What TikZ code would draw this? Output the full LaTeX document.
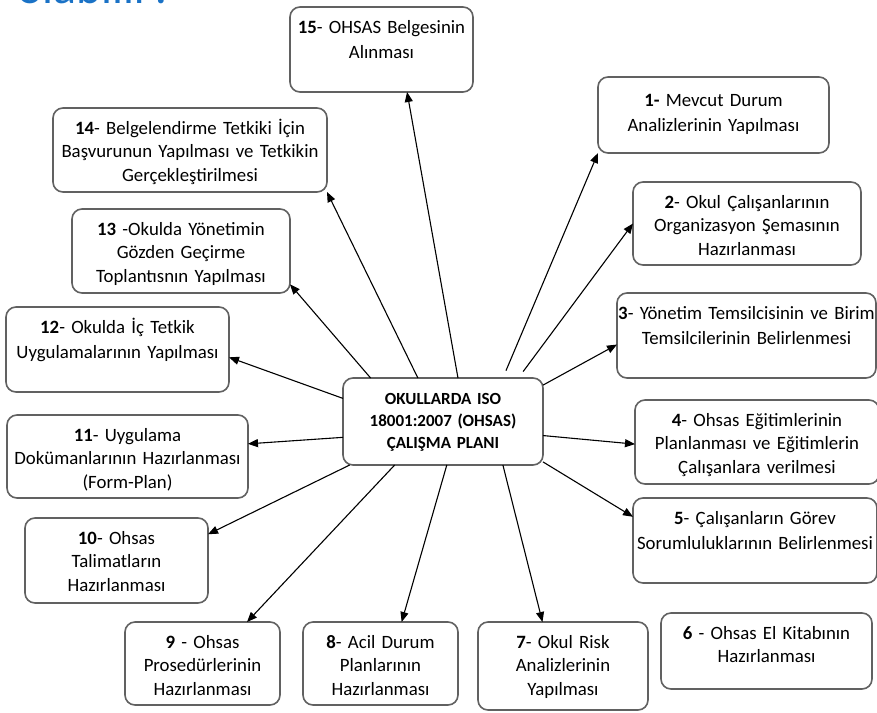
\documentclass[tikz,border=0pt]{standalone}
\usepackage{fontspec}
\setmainfont{Carlito}
\usetikzlibrary{arrows.meta}
\definecolor{baslik}{HTML}{1A72C6}

\tikzset{
  kutu/.style={draw=black!62, line width=1.6pt, rounded corners=10pt, fill=white,
    inner sep=0pt, outer sep=0pt, anchor=north west, align=center,
    text height=26pt, font=\fontsize{18.8}{23.5}\selectfont},
  iki/.style={font=\fontsize{18.8}{25.5}\selectfont},
  merkez/.style={kutu, font=\fontsize{17}{22}\selectfont\bfseries},
  ok/.style={-{Triangle[length=10pt,width=8pt]}, line width=1.1pt},
}

\begin{document}
\begin{tikzpicture}[x=1pt,y=-1pt]
      \useasboundingbox (0,0) rectangle (877,712);
      \clip (0,0) rectangle (877,712);
      % title
      \node[anchor=base west, inner sep=0pt, text=baslik, font=\fontsize{48}{48}\selectfont] (baslik) at (17,3) {olabilir?};
      % Nodes
      % center and steps
      \node[merkez, text width=200pt, text depth=61pt] (c) at (343,378) {OKULLARDA ISO\\18001:2007 (OHSAS)\\ÇALIŞMA PLANI};
      \node[kutu, iki, text width=231pt, text height=29pt, text depth=47pt] (s1) at (598,77) {\textbf{1-} Mevcut Durum\\Analizlerinin Yapılması};
      \node[kutu, text width=228pt, text depth=57pt] (s2) at (633,182) {\textbf{2}- Okul Çalışanlarının\\Organizasyon Şemasının\\Hazırlanması};
      \node[kutu, iki, text width=259pt, text depth=59pt] (s3) at (617,293) {\textbf{3}- Yönetim Temsilcisinin ve Birim\\Temsilcilerinin Belirlenmesi};
      \node[kutu, text width=244pt, text depth=58pt] (s4) at (635,400) {\textbf{4}- Ohsas Eğitimlerinin\\Planlanması ve Eğitimlerin\\Çalışanlara verilmesi};
      \node[kutu, iki, text width=244pt, text depth=59pt] (s5) at (633,498) {\textbf{5}- Çalışanların Görev\\Sorumluluklarının Belirlenmesi};
      \node[kutu, text width=211pt, text depth=50pt] (s6) at (661,613) {\textbf{6} - Ohsas El Kitabının\\Hazırlanması};
      \node[kutu, text width=170pt, text depth=62pt] (s7) at (478,622) {\textbf{7}- Okul Risk\\Analizlerinin\\Yapılması};
      \node[kutu, text width=155pt, text depth=57pt] (s8) at (303,622) {\textbf{8}- Acil Durum\\Planlarının\\Hazırlanması};
      \node[kutu, text width=155pt, text depth=57pt] (s9) at (125,622) {\textbf{9} - Ohsas\\Prosedürlerinin\\Hazırlanması};
      \node[kutu, text width=183pt, text depth=59pt] (s10) at (25,518) {\textbf{10}- Ohsas\\Talimatların\\Hazırlanması};
      \node[kutu, text width=241pt, text depth=57pt] (s11) at (7,415) {\textbf{11}- Uygulama\\Dokümanlarının Hazırlanması\\(Form-Plan)};
      \node[kutu, iki, text width=223pt, text depth=59pt] (s12) at (6,307) {\textbf{12}- Okulda İç Tetkik\\Uygulamalarının Yapılması};
      \node[kutu, text width=218pt, text depth=58pt] (s13) at (72,209) {\textbf{13} -Okulda Yönetimin\\Gözden Geçirme\\Toplantısnın Yapılması};
      \node[kutu, text width=274pt, text depth=58pt] (s14) at (53,108) {\textbf{14}- Belgelendirme Tetkiki İçin\\Başvurunun Yapılması ve Tetkikin\\Gerçekleştirilmesi};
      \node[kutu, iki, text width=183pt, text depth=59pt] (s15) at (290,7) {\textbf{15}- OHSAS Belgesinin\\Alınması};
      % edges
      \draw[ok, shorten <=8pt] (c.36) -- (s1.south west);
      \draw[ok, shorten <=8pt] (c.30) -- (s2.west);
      \draw[ok] (c.20) -- (s3.184);
      \draw[ok] (c.352) -- (s4.181);
      \draw[ok] (c.338) -- (s5.169);
      \draw[ok] (c.324) -- (s7.115);
      \draw[ok] (c.275) -- (s8.63);
      \draw[ok] (c.222) -- (s9.43);
      \draw[ok] (c.205) -- (s10.16);
      \draw[ok] (c.189) -- (s11.6);
      \draw[ok] (c.167) -- (s12.356);
      \draw[ok] (c.149) -- (s13.343);
      \draw[ok] (c.120) -- (s14.south east);
      \draw[ok] (c.71) -- (s15.301);
\end{tikzpicture}
\end{document}
